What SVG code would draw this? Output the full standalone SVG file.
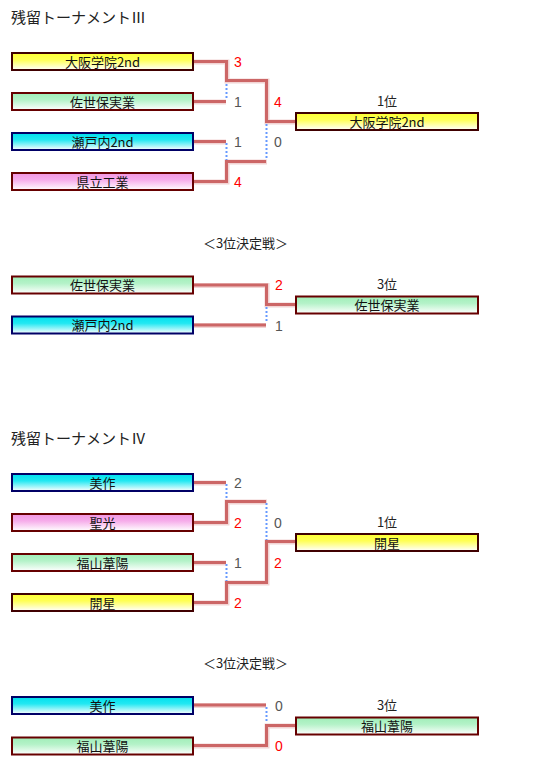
<svg xmlns="http://www.w3.org/2000/svg" width="540" height="763" viewBox="0 0 540 763">
<style>
text{font-family:"Noto Sans CJK JP","Noto Sans",sans-serif;}
.title{font-size:15px;fill:#222;}
.sub{font-size:13px;fill:#222;text-anchor:middle;}
.name{font-size:13px;fill:#111;text-anchor:middle;}
.rank{font-size:13px;fill:#222;text-anchor:middle;}
.sc{font-size:14px;fill:#555;font-family:"Liberation Sans","Noto Sans",sans-serif;}
.win{fill:#ff0000;}
.box{stroke-width:2;}
.y{fill:url(#gy);stroke:#400000;}
.g{fill:url(#gg);stroke:#660000;}
.c{fill:url(#gc);stroke:#000066;}
.p{fill:url(#gp);stroke:#660000;}
.halo{fill:none;stroke:#f2d4d4;stroke-width:5;}
.line{fill:none;stroke:#cc6666;stroke-width:3;}
.dot{fill:none;stroke:#6699ff;stroke-width:2;stroke-dasharray:2 2;}
</style>
<defs>
<linearGradient id="gy" x1="0" y1="0" x2="0" y2="1"><stop offset="0" stop-color="#ffff33"/><stop offset="0.4" stop-color="#ffff55"/><stop offset="1" stop-color="#ffffff"/></linearGradient>
<linearGradient id="gg" x1="0" y1="0" x2="0" y2="1"><stop offset="0" stop-color="#a0eeb8"/><stop offset="0.4" stop-color="#b4f2c8"/><stop offset="1" stop-color="#ffffff"/></linearGradient>
<linearGradient id="gc" x1="0" y1="0" x2="0" y2="1"><stop offset="0" stop-color="#00e0ee"/><stop offset="0.4" stop-color="#22e8f2"/><stop offset="1" stop-color="#ffffff"/></linearGradient>
<linearGradient id="gp" x1="0" y1="0" x2="0" y2="1"><stop offset="0" stop-color="#f296e2"/><stop offset="0.4" stop-color="#f6acea"/><stop offset="1" stop-color="#ffffff"/></linearGradient>
</defs>

<!-- Titles -->
<text class="title" x="11" y="23">残留トーナメントⅢ</text>
<text class="sub" x="245.5" y="248">＜3位決定戦＞</text>
<text class="title" x="11" y="444">残留トーナメントⅣ</text>
<text class="sub" x="245.5" y="668">＜3位決定戦＞</text>

<!-- Connectors -->
<g id="connectors">
  <!-- III main -->
  <path class="halo" d="M194,62 H227 V81 H267 V122 H295"/>
  <path class="halo" d="M194,102 H226"/>
  <path class="halo" d="M194,142 H226"/>
  <path class="halo" d="M194,182 H227 V162 H267"/>
  <path class="line" d="M194,61.5 H226.5 V80.5 H266.5 V121.5 H295"/>
  <path class="line" d="M194,101.5 H226"/>
  <path class="line" d="M194,141.5 H226"/>
  <path class="line" d="M194,181.5 H226.5 V161.5 H266"/>
  <path class="dot" d="M226.5,84 V100"/>
  <path class="dot" d="M226.5,143 V160"/>
  <path class="dot" d="M266.5,124 V160"/>
  <!-- III 3rd -->
  <path class="halo" d="M194,285.5 H267 V305 H295"/>
  <path class="halo" d="M194,325.5 H266"/>
  <path class="line" d="M194,285 H266.5 V304.5 H295"/>
  <path class="line" d="M194,325 H266"/>
  <path class="dot" d="M266.5,307 V323"/>
  <!-- IV main -->
  <path class="halo" d="M194,483 H226"/>
  <path class="halo" d="M194,523 H227 V502 H267"/>
  <path class="halo" d="M194,563 H226"/>
  <path class="halo" d="M194,603 H227 V583 H267 V542 H295"/>
  <path class="line" d="M194,482.5 H226"/>
  <path class="line" d="M194,522.5 H226.5 V501.5 H266"/>
  <path class="line" d="M194,562.5 H226"/>
  <path class="line" d="M194,602.5 H226.5 V582.5 H266.5 V541.5 H295"/>
  <path class="dot" d="M226.5,484 V500"/>
  <path class="dot" d="M226.5,564 V581"/>
  <path class="dot" d="M266.5,503 V540"/>
  <!-- IV 3rd -->
  <path class="halo" d="M194,705.5 H266"/>
  <path class="halo" d="M194,746 H267 V726 H295"/>
  <path class="line" d="M194,705 H266"/>
  <path class="line" d="M194,745.5 H266.5 V725.5 H295"/>
  <path class="dot" d="M266.5,707 V723"/>
</g>

<!-- Scores -->
<g id="scores">
  <text class="sc win" x="234" y="66.5">3</text>
  <text class="sc" x="234" y="106.5">1</text>
  <text class="sc win" x="274" y="106.5">4</text>
  <text class="sc" x="274" y="146.5">0</text>
  <text class="sc" x="234" y="146.5">1</text>
  <text class="sc win" x="234" y="186.5">4</text>
  <text class="sc win" x="275" y="289.5">2</text>
  <text class="sc" x="275" y="330.5">1</text>
  <text class="sc" x="234" y="487.5">2</text>
  <text class="sc win" x="234" y="527.5">2</text>
  <text class="sc" x="274" y="527.5">0</text>
  <text class="sc" x="234" y="567.5">1</text>
  <text class="sc win" x="274" y="567.5">2</text>
  <text class="sc win" x="234" y="607.5">2</text>
  <text class="sc" x="275" y="710.5">0</text>
  <text class="sc win" x="275" y="750.5">0</text>
</g>

<!-- Tournament III nodes -->
<g id="t3-osaka"><rect class="box y" x="12" y="53" width="181" height="17"/><text class="name" x="102.5" y="66.5">大阪学院2nd</text></g>
<g id="t3-sasebo"><rect class="box g" x="12" y="93" width="181" height="17"/><text class="name" x="102.5" y="106.5">佐世保実業</text></g>
<g id="t3-setouchi"><rect class="box c" x="12" y="133" width="181" height="17"/><text class="name" x="102.5" y="146.5">瀬戸内2nd</text></g>
<g id="t3-kenritsu"><rect class="box p" x="12" y="173" width="181" height="17"/><text class="name" x="102.5" y="186.5">県立工業</text></g>
<g id="t3-first"><text class="rank" x="387" y="106">1位</text><rect class="box y" x="296" y="113" width="182" height="17"/><text class="name" x="387" y="126.5">大阪学院2nd</text></g>

<g id="t3-3rd-sasebo"><rect class="box g" x="12" y="276.5" width="181" height="17"/><text class="name" x="102.5" y="290">佐世保実業</text></g>
<g id="t3-3rd-setouchi"><rect class="box c" x="12" y="316.5" width="181" height="17"/><text class="name" x="102.5" y="330">瀬戸内2nd</text></g>
<g id="t3-third"><text class="rank" x="387" y="289">3位</text><rect class="box g" x="296" y="296.5" width="182" height="17"/><text class="name" x="387" y="310">佐世保実業</text></g>

<!-- Tournament IV nodes -->
<g id="t4-mimasaka"><rect class="box c" x="12" y="474" width="181" height="17"/><text class="name" x="102.5" y="487.5">美作</text></g>
<g id="t4-seiko"><rect class="box p" x="12" y="514" width="181" height="17"/><text class="name" x="102.5" y="527.5">聖光</text></g>
<g id="t4-fukuyama"><rect class="box g" x="12" y="554" width="181" height="17"/><text class="name" x="102.5" y="567.5">福山葦陽</text></g>
<g id="t4-kaisei"><rect class="box y" x="12" y="594" width="181" height="17"/><text class="name" x="102.5" y="607.5">開星</text></g>
<g id="t4-first"><text class="rank" x="387" y="527">1位</text><rect class="box y" x="296" y="534" width="182" height="17"/><text class="name" x="387" y="547.5">開星</text></g>

<g id="t4-3rd-mimasaka"><rect class="box c" x="12" y="697" width="181" height="17"/><text class="name" x="102.5" y="710.5">美作</text></g>
<g id="t4-3rd-fukuyama"><rect class="box g" x="12" y="737.5" width="181" height="17"/><text class="name" x="102.5" y="751">福山葦陽</text></g>
<g id="t4-third"><text class="rank" x="387" y="710">3位</text><rect class="box g" x="296" y="717.5" width="182" height="17"/><text class="name" x="387" y="731">福山葦陽</text></g>
</svg>
